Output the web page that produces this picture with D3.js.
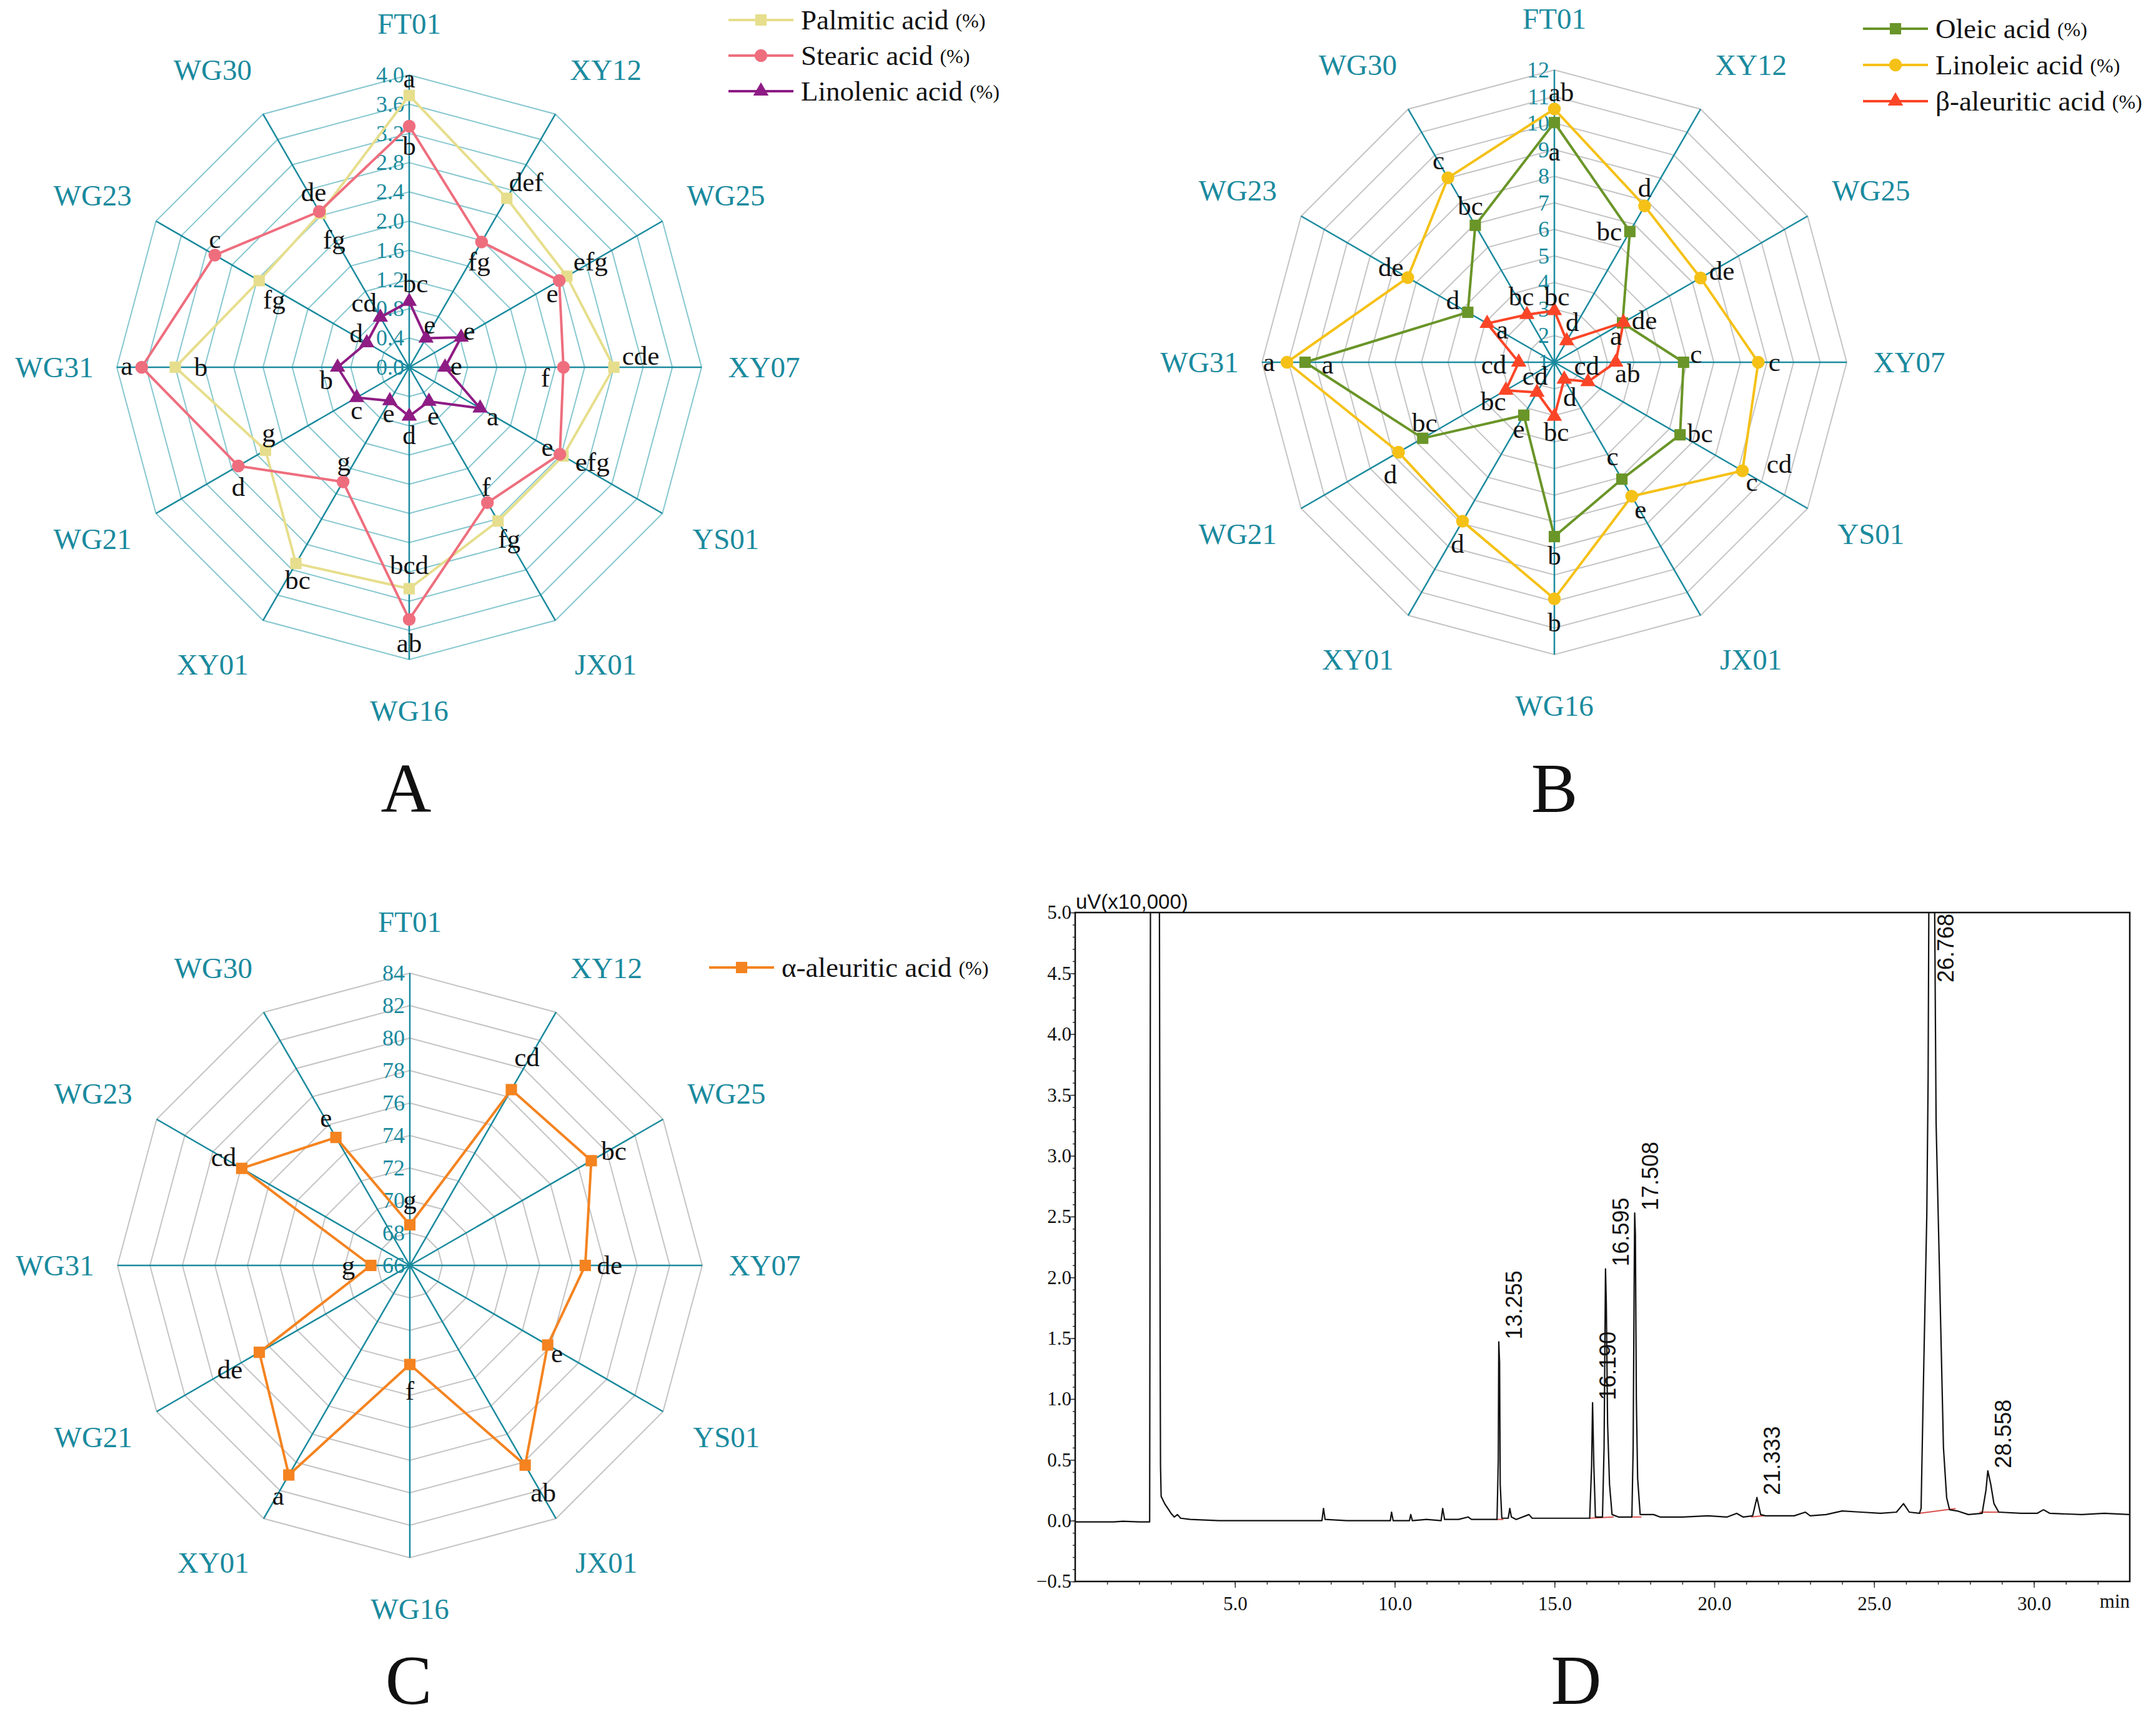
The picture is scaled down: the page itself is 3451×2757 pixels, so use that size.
<!DOCTYPE html>
<html>
<head>
<meta charset="utf-8">
<script src="https://cdn.jsdelivr.net/npm/d3@7/dist/d3.min.js"></script>
<style>body{margin:0;background:#fff}</style>
</head>
<body>
<div id="chart"></div>
<script>
// ---- data ----
var cats = ["FT01", "XY12", "WG25", "XY07", "YS01", "JX01", "WG16", "XY01", "WG21", "WG31", "WG23", "WG30"];

// panel A (%)
var palmitic  = [3.72, 2.67, 2.49, 2.80, 2.43, 2.43, 3.03, 3.10, 2.27, 3.20, 2.37, 2.43];
var stearic   = [3.30, 1.98, 2.37, 2.11, 2.38, 2.14, 3.45, 1.81, 2.70, 3.66, 3.07, 2.46];
var linolenic = [0.90, 0.46, 0.82, 0.49, 1.12, 0.54, 0.67, 0.53, 0.83, 0.98, 0.67, 0.79];
var palmiticSig  = ["a", "def", "efg", "cde", "efg", "fg", "bcd", "bc", "g", "b", "fg", "fg"];
var stearicSig   = ["b", "fg", "e", "f", "e", "f", "ab", "g", "d", "a", "c", "de"];
var linolenicSig = ["bc", "e", "e", "e", "a", "e", "d", "e", "c", "b", "d", "cd"];
var ticksA = [0.0, 0.4, 0.8, 1.2, 1.6, 2.0, 2.4, 2.8, 3.2, 3.6, 4.0];

// panel B (%)
var oleic    = [10.02, 6.68, 3.96, 5.86, 6.46, 6.08, 7.56, 3.30, 6.72, 10.38, 4.76, 6.95];
var linoleic = [10.53, 7.79, 7.35, 8.67, 9.17, 6.82, 9.90, 7.91, 7.77, 11.06, 7.37, 9.01];
var betaAleuritic = [2.94, 1.93, 4.00, 3.31, 2.46, 1.74, 3.04, 2.31, 3.11, 2.34, 3.92, 3.07];
var oleicSig    = ["a", "bc", "de", "c", "bc", "c", "b", "e", "bc", "a", "d", "bc"];
var linoleicSig = ["ab", "d", "de", "c", "c", "e", "b", "d", "d", "a", "de", "c"];
var betaSig     = ["bc", "d", "a", "ab", "cd", "d", "bc", "cd", "bc", "cd", "a", "bc"];
var ticksB = [1, 2, 3, 4, 5, 6, 7, 8, 9, 10, 11, 12];

// panel C (%)
var alphaAleuritic = [68.5, 78.5, 78.9, 76.8, 75.8, 80.2, 72.1, 80.9, 76.7, 68.4, 77.95, 75.1];
var alphaSig = ["g", "cd", "bc", "de", "e", "ab", "f", "a", "de", "g", "cd", "e"];
var ticksC = [66, 68, 70, 72, 74, 76, 78, 80, 82, 84];

// panel D chromatogram trace [min, uV x10,000]
var trace = [
  [0, -0.01], [1.2, -0.01], [1.5, -0.005], [2.0, -0.01], [2.33, -0.01], [2.36, 6], [2.63, 6],
  [2.66, 1.35], [2.67, 0.45], [2.69, 0.2], [2.8, 0.14], [2.9, 0.1], [3.0, 0.06], [3.1, 0.03],
  [3.2, 0.05], [3.3, 0.02], [3.6, 0.01], [4.5, 0.0], [5.5, 0.0], [6.5, 0.0], [7.72, 0.0],
  [7.77, 0.1], [7.82, 0.01], [8.5, 0.0], [9.86, 0.0], [9.9, 0.07], [9.95, 0.0], [10.46, 0.0],
  [10.5, 0.05], [10.55, 0.0], [11.0, 0.01], [11.45, 0.0], [11.5, 0.1], [11.56, 0.01], [12.0, 0.01],
  [12.3, 0.03], [12.4, 0.01], [13.2, 0.01], [13.24, 0.5], [13.255, 1.47], [13.28, 1.3], [13.3, 0.3],
  [13.35, 0.02], [13.55, 0.02], [13.6, 0.1], [13.65, 0.03], [13.8, 0.01], [14.2, 0.05], [14.3, 0.02],
  [15.0, 0.02], [15.5, 0.02], [16.1, 0.02], [16.16, 0.45], [16.19, 0.97], [16.23, 0.45], [16.28, 0.03],
  [16.5, 0.03], [16.55, 0.6], [16.595, 2.07], [16.62, 1.78], [16.66, 0.8], [16.72, 0.3], [16.8, 0.05],
  [17.0, 0.03], [17.42, 0.03], [17.46, 0.6], [17.49, 1.9], [17.508, 2.53], [17.53, 2.35], [17.56, 1.0],
  [17.6, 0.35], [17.68, 0.05], [18.1, 0.05], [18.3, 0.03], [19.0, 0.03], [19.8, 0.04], [20.4, 0.03],
  [20.7, 0.06], [20.9, 0.03], [21.2, 0.04], [21.333, 0.19], [21.45, 0.05], [21.6, 0.04], [22.5, 0.04],
  [22.85, 0.07], [23.0, 0.04], [23.5, 0.05], [24.0, 0.08], [24.6, 0.07], [25.2, 0.06], [25.7, 0.07],
  [25.92, 0.14], [26.1, 0.07], [26.42, 0.06], [26.47, 0.1], [26.55, 1.22], [26.65, 2.53], [26.69, 3.63],
  [26.72, 5.5], [26.8, 9], [26.88, 5.6], [26.94, 3.27], [27.04, 2.12], [27.1, 1.42], [27.17, 0.6],
  [27.27, 0.19], [27.36, 0.09], [27.6, 0.08], [27.95, 0.05], [28.38, 0.06], [28.5, 0.25], [28.558, 0.41],
  [28.65, 0.3], [28.75, 0.14], [28.9, 0.07], [29.6, 0.06], [30.1, 0.06], [30.3, 0.09], [30.5, 0.06],
  [31.5, 0.05], [32.2, 0.06], [33, 0.05]
];
// integration baselines [t1, v1, t2, v2]
var baselines = [[13.18, 0.01, 13.4, 0.01], [16.1, 0.02, 16.85, 0.03], [17.4, 0.03, 17.72, 0.03],
  [21.15, 0.03, 21.55, 0.04], [26.4, 0.06, 27.55, 0.1], [28.3, 0.07, 29.0, 0.07]];
var peakTimes = [13.255, 16.190, 16.595, 17.508, 21.333, 26.768, 28.558];
var xTicksD = [5, 10, 15, 20, 25, 30];

// ---- label placement (px offsets from marker) ----
var offA = {
  palmitic: [[0, -27], [31, -25], [38, -23], [43, -18], [47, 10], [18, 29], [0, -38], [3, 27], [5, -28], [41, 0], [24, 31], [22, 42]],
  stearic: [[0, 32], [-4, 32], [-11, 21], [-29, 17], [-20, -11], [-2, -25], [0, 38], [1, -32], [0, 34], [-24, -2], [0, -25], [-9, -31]],
  linolenic: [[10, -29], [6, -21], [13, -10], [18, -2], [20, 13], [7, 23], [0, 31], [-2, 20], [0, 20], [-18, 21], [-17, -15], [-26, -23]]
};
var offB = {
  oleic: [[0, 47], [-33, 0], [35, -4], [20, -13], [32, -2], [-15, -36], [0, 31], [-8, 22], [3, -25], [36, 4], [-24, -19], [-8, -31]],
  linoleic: [[11, -27], [0, -29], [34, -11], [26, 0], [15, 18], [14, 22], [0, 38], [-8, 36], [-13, 36], [-29, 0], [-27, -17], [-15, -28]],
  beta: [[4, -22], [9, -30], [-12, 22], [19, 18], [-2, -25], [9, 29], [3, 25], [-3, -26], [-20, 18], [-40, 4], [24, 10], [-9, -29]]
};
var offC = [[0, -40], [25, -52], [36, -15], [39, 0], [15, 14], [29, 44], [0, 42], [-17, 34], [-47, 28], [-36, 0], [-29, -18], [-16, -31]];

// ---- setup ----
var W = 3451, H = 2757;
var serif = "'Liberation Serif','Times New Roman',serif";
var sans = "'Liberation Sans',Arial,sans-serif";
var teal = "#1a8a9e";

var svg = d3.select("#chart").append("svg")
    .attr("width", W).attr("height", H);
svg.append("rect").attr("width", W).attr("height", H).attr("fill", "#fff");

function radar(o) {
    var g = svg.append("g").attr("transform", "translate(" + o.cx + "," + o.cy + ")");
    var n = cats.length;
    var ang = function(i) { return i * 2 * Math.PI / n; };
    var r = d3.scaleLinear().domain([o.ticks[0], o.ticks[o.ticks.length - 1]]).range([0, o.R]);
    var poly = d3.lineRadial()
        .angle(function(d, i) { return ang(i); })
        .radius(function(d) { return r(d); })
        .curve(d3.curveLinearClosed);

    // rings
    o.ticks.slice(1).forEach(function(t) {
        g.append("path").attr("d", poly(cats.map(function() { return t; })))
            .attr("fill", "none").attr("stroke", o.ringColor).attr("stroke-width", 2);
    });
    // spokes + category names
    cats.forEach(function(c, i) {
        var a = ang(i), s = Math.sin(a), co = Math.cos(a);
        g.append("line").attr("x1", 0).attr("y1", 0)
            .attr("x2", s * o.R).attr("y2", -co * o.R)
            .attr("stroke", teal).attr("stroke-width", 2.5);
        var ex = Math.abs(s) > 0.01 ? Math.sign(s) * (18 + 25 * Math.abs(co)) : 0;
        g.append("text").attr("x", s * 550 + ex).attr("y", -co * 550 + 16)
            .attr("text-anchor", "middle").attr("font-family", serif).attr("font-size", 47)
            .attr("fill", teal).text(c);
    });
    // tick labels along the first spoke
    g.selectAll(null).data(o.ticks).enter().append("text")
        .attr("x", -8).attr("y", function(d) { return -r(d) + 12; })
        .attr("text-anchor", "end").attr("font-family", serif).attr("font-size", 36)
        .attr("fill", teal).text(o.fmt);

    // series
    o.series.forEach(function(s) {
        g.append("path").attr("d", poly(s.values))
            .attr("fill", "none").attr("stroke", s.color).attr("stroke-width", 4)
            .attr("stroke-linejoin", "round");
        var pt = function(d, i) {
            return [Math.sin(ang(i)) * r(d), -Math.cos(ang(i)) * r(d)];
        };
        g.selectAll(null).data(s.values).enter().append("path")
            .attr("d", d3.symbol().type(s.shape).size(s.size))
            .attr("transform", function(d, i) { var p = pt(d, i); return "translate(" + p[0] + "," + p[1] + ")"; })
            .attr("fill", s.color);
        g.selectAll(null).data(s.values).enter().append("text")
            .attr("x", function(d, i) { return pt(d, i)[0] + s.off[i][0]; })
            .attr("y", function(d, i) { return pt(d, i)[1] + s.off[i][1] + 14; })
            .attr("text-anchor", "middle").attr("font-family", serif).attr("font-size", 43)
            .attr("fill", "#111").text(function(d, i) { return s.sig[i]; });
        if (s.extra) {
            s.extra.forEach(function(e) {
                var p = pt(s.values[e.i], e.i);
                g.append("text").attr("x", p[0] + e.dx).attr("y", p[1] + e.dy + 14)
                    .attr("text-anchor", "middle").attr("font-family", serif).attr("font-size", 43)
                    .attr("fill", "#111").text(e.text);
            });
        }
    });
}

function legend(x, y0, gap, items) {
    items.forEach(function(it, k) {
        var y = y0 + k * gap;
        svg.append("line").attr("x1", x).attr("x2", x + 104).attr("y1", y).attr("y2", y)
            .attr("stroke", it.color).attr("stroke-width", 4);
        svg.append("path").attr("d", d3.symbol().type(it.shape).size(it.size))
            .attr("transform", "translate(" + (x + 52) + "," + y + ")").attr("fill", it.color);
        var t = svg.append("text").attr("x", x + 116).attr("y", y + 15)
            .attr("font-family", serif).attr("font-size", 45).attr("fill", "#111");
        t.append("tspan").text(it.name + " ");
        t.append("tspan").attr("font-size", 32).attr("dy", -3).text("(%)");
    });
}

var cPalm = "#e6de8c", cStea = "#ee6e7e", cLino = "#8e1c84";
var cOle = "#6a9528", cLinol = "#f5c117", cBeta = "#fb4527", cAlpha = "#f48320";

// Panel A
radar({
    cx: 655, cy: 588, R: 468, ticks: ticksA, ringColor: "#86c7cf",
    fmt: d3.format(".1f"),
    series: [
        { values: palmitic, sig: palmiticSig, off: offA.palmitic, color: cPalm, shape: d3.symbolSquare, size: 330 },
        { values: stearic, sig: stearicSig, off: offA.stearic, color: cStea, shape: d3.symbolCircle, size: 330 },
        { values: linolenic, sig: linolenicSig, off: offA.linolenic, color: cLino, shape: d3.symbolTriangle, size: 260 }
    ]
});
legend(1166, 32, 57, [
    { name: "Palmitic acid", color: cPalm, shape: d3.symbolSquare, size: 330 },
    { name: "Stearic acid", color: cStea, shape: d3.symbolCircle, size: 330 },
    { name: "Linolenic acid", color: cLino, shape: d3.symbolTriangle, size: 260 }
]);

// Panel B
radar({
    cx: 2488, cy: 580, R: 468, ticks: ticksB, ringColor: "#c4c4c4",
    fmt: d3.format("d"),
    series: [
        { values: oleic, sig: oleicSig, off: offB.oleic, color: cOle, shape: d3.symbolSquare, size: 330 },
        { values: linoleic, sig: linoleicSig, off: offB.linoleic, color: cLinol, shape: d3.symbolCircle, size: 330,
          extra: [{ i: 4, dx: 59, dy: -11, text: "cd" }] },
        { values: betaAleuritic, sig: betaSig, off: offB.beta, color: cBeta, shape: d3.symbolTriangle, size: 260 }
    ]
});
legend(2982, 46, 58, [
    { name: "Oleic acid", color: cOle, shape: d3.symbolSquare, size: 330 },
    { name: "Linoleic acid", color: cLinol, shape: d3.symbolCircle, size: 330 },
    { name: "\u03b2-aleuritic acid", color: cBeta, shape: d3.symbolTriangle, size: 260 }
]);

// Panel C
radar({
    cx: 656, cy: 2026, R: 468, ticks: ticksC, ringColor: "#c4c4c4",
    fmt: d3.format("d"),
    series: [
        { values: alphaAleuritic, sig: alphaSig, off: offC, color: cAlpha, shape: d3.symbolSquare, size: 330 }
    ]
});
legend(1135, 1549, 0, [
    { name: "\u03b1-aleuritic acid", color: cAlpha, shape: d3.symbolSquare, size: 330 }
]);

// Panel D chromatogram
var xD = d3.scaleLinear().domain([0, 33]).range([1721, 3409]);
var yD = d3.scaleLinear().domain([-0.5, 5.0]).range([2532, 1461]);
var gD = svg.append("g");

gD.append("clipPath").attr("id", "plotclip").append("rect")
    .attr("x", xD(0)).attr("y", yD(5)).attr("width", xD(33) - xD(0)).attr("height", yD(-0.5) - yD(5));

var xMajor = d3.axisBottom(xD).tickValues(xTicksD).tickFormat(d3.format(".1f")).tickSize(10).tickSizeOuter(0);
var xMinor = d3.axisBottom(xD).tickValues(d3.range(1, 33, 1)).tickFormat("").tickSize(5).tickSizeOuter(0);
var yMajor = d3.axisLeft(yD).tickValues(d3.range(-0.5, 5.01, 0.5)).tickFormat(d3.format(".1f")).tickSize(8).tickSizeOuter(0);
var yMinor = d3.axisLeft(yD).tickValues(d3.range(-0.5, 5.01, 0.1)).tickFormat("").tickSize(4).tickSizeOuter(0);

[xMinor, xMajor].forEach(function(ax) {
    gD.append("g").attr("transform", "translate(0," + yD(-0.5) + ")").call(ax)
        .call(function(s) {
            s.selectAll("text").attr("font-family", serif).attr("font-size", 31).attr("fill", "#111").attr("dy", "1.05em");
            s.selectAll("line").attr("stroke", "#333").attr("stroke-width", 1.5);
            s.select(".domain").remove();
        });
});
[yMinor, yMajor].forEach(function(ax) {
    gD.append("g").attr("transform", "translate(" + xD(0) + ",0)").call(ax)
        .call(function(s) {
            s.selectAll("text").attr("font-family", serif).attr("font-size", 31).attr("fill", "#111").attr("x", -6);
            s.selectAll("line").attr("stroke", "#333").attr("stroke-width", 1.5);
            s.select(".domain").remove();
        });
});
gD.append("rect").attr("x", xD(0)).attr("y", yD(5)).attr("width", xD(33) - xD(0)).attr("height", yD(-0.5) - yD(5))
    .attr("fill", "none").attr("stroke", "#111").attr("stroke-width", 2.5);

var lineD = d3.line().x(function(d) { return xD(d[0]); }).y(function(d) { return yD(d[1]); });
gD.append("g").attr("clip-path", "url(#plotclip)").selectAll(null).data(baselines).enter().append("line")
    .attr("x1", function(d) { return xD(d[0]); }).attr("y1", function(d) { return yD(d[1]); })
    .attr("x2", function(d) { return xD(d[2]); }).attr("y2", function(d) { return yD(d[3]); })
    .attr("stroke", "#d9534f").attr("stroke-width", 2);
gD.append("path").attr("clip-path", "url(#plotclip)").attr("d", lineD(trace))
    .attr("fill", "none").attr("stroke", "#111").attr("stroke-width", 2.2).attr("stroke-linejoin", "round");

peakTimes.forEach(function(t) {
    var apex = d3.max(trace.filter(function(d) { return Math.abs(d[0] - t) < 0.1; }), function(d) { return d[1]; });
    var clipped = apex >= 5;
    var px = xD(t) + 37, py = clipped ? yD(5) + 2 : yD(apex) - 4;
    gD.append("text").attr("transform", "translate(" + px + "," + py + ") rotate(-90)")
        .attr("text-anchor", clipped ? "end" : "start")
        .attr("font-family", sans).attr("font-size", 36).attr("fill", "#111")
        .text(d3.format(".3f")(t));
});
gD.append("text").attr("x", xD(0) + 1).attr("y", yD(5) - 6)
    .attr("font-family", sans).attr("font-size", 33).attr("fill", "#111").text("uV(x10,000)");
gD.append("text").attr("x", xD(33)).attr("y", yD(-0.5) + 42).attr("text-anchor", "end")
    .attr("font-family", serif).attr("font-size", 31).attr("fill", "#111").text("min");

// panel letters
[["A", 650, 1300], ["B", 2488, 1300], ["C", 654, 2728], ["D", 2523, 2728]].forEach(function(p) {
    svg.append("text").attr("x", p[1]).attr("y", p[2]).attr("text-anchor", "middle")
        .attr("font-family", serif).attr("font-size", 112).attr("fill", "#111").text(p[0]);
});
</script>
</body>
</html>
